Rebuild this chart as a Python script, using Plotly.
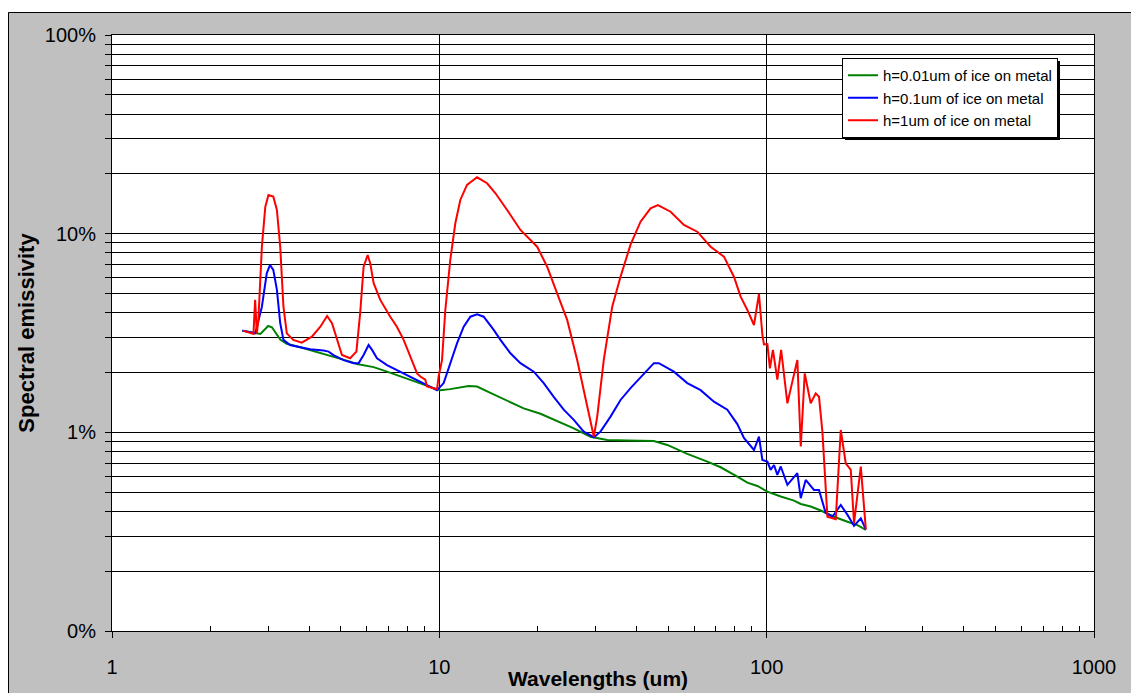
import plotly.graph_objects as go

# Wavelength (um) and spectral emissivity (%)
green_x = [2.5, 2.74, 2.84, 3.0, 3.08, 3.27, 3.42, 3.76, 4.23, 4.75, 5.34, 5.6, 6.01, 6.3, 6.92, 7.6, 8.55, 9.61, 10.07, 10.8,
           12.29, 13.04, 14.32, 16.11, 18.1, 20.37, 22.9, 25.75, 28.96, 32.57, 37.5, 45.23, 49.7, 57.21, 65.88, 72.33, 81.36,
           87.3, 93.67, 100.5, 110.4, 121.2, 127.1, 136.3, 146.3, 160.6, 176.6, 189.4, 200.9]
green_y = [3.25, 3.15, 3.13, 3.43, 3.38, 2.92, 2.79, 2.68, 2.54, 2.40, 2.27, 2.21, 2.16, 2.13, 2.02, 1.91, 1.78, 1.67, 1.63, 1.65,
           1.71, 1.70, 1.58, 1.44, 1.32, 1.24, 1.145, 1.048, 0.951, 0.916, 0.910, 0.905, 0.864, 0.779, 0.712, 0.667, 0.598,
           0.558, 0.537, 0.503, 0.475, 0.453, 0.436, 0.423, 0.404, 0.376, 0.355, 0.341, 0.323]

blue_x = [2.5, 2.74, 2.87, 2.97, 3.04, 3.11, 3.19, 3.265, 3.34, 3.5, 3.76, 4.03, 4.43, 4.59, 4.75, 5.1, 5.47, 5.67, 5.87, 6.08,
          6.23, 6.45, 6.92, 7.6, 8.55, 9.39, 9.84, 10.31, 10.8, 11.33, 11.87, 12.44, 13.04, 13.66, 14.66, 15.37, 16.49, 17.69,
          19.43, 20.84, 22.36, 23.99, 25.75, 27.62, 29.65, 31.07, 33.34, 35.77, 38.38, 42.15, 45.23, 46.84, 52.06, 57.21, 62.84,
          69.01, 75.82, 81.36, 85.22, 91.46, 94.73, 97.03, 100.5, 102.8, 105.3, 107.8, 110.4, 115.7, 124.1, 127.1, 131.6, 139.5,
          144.5, 151.5, 158.8, 168.4, 176.6, 184.9, 193.9, 200.9]
blue_y = [3.25, 3.15, 4.29, 6.32, 6.96, 6.57, 5.21, 3.55, 2.92, 2.75, 2.68, 2.62, 2.58, 2.55, 2.45, 2.31, 2.23, 2.23, 2.45, 2.75,
          2.60, 2.36, 2.18, 2.02, 1.84, 1.70, 1.63, 1.77, 2.23, 2.81, 3.40, 3.82, 3.93, 3.82, 3.28, 2.92, 2.50, 2.23,
          2.02, 1.77, 1.51, 1.30, 1.155, 1.008, 0.945, 1.008, 1.20, 1.455, 1.67, 1.98, 2.23, 2.23, 2.02, 1.77, 1.63,
          1.427, 1.30, 1.10, 0.937, 0.815, 0.951, 0.726, 0.712, 0.647, 0.685, 0.611, 0.673, 0.544, 0.623, 0.466, 0.576, 0.513,
          0.513, 0.392, 0.376, 0.431, 0.384, 0.338, 0.369, 0.325]

red_x = [2.51, 2.705, 2.737, 2.77, 2.80, 2.87, 2.94, 3.006, 3.11, 3.19, 3.265, 3.34, 3.42, 3.58, 3.80, 4.08, 4.33, 4.54, 4.70, 4.87,
         5.04, 5.34, 5.58, 5.73, 5.87, 6.04, 6.15, 6.30, 6.60, 7.08, 7.42, 7.78, 8.15, 8.55, 8.75, 9.06, 9.17, 9.84, 9.95, 10.19,
         10.43, 10.8, 11.19, 11.59, 12.15, 13.04, 13.99, 14.84, 16.11, 17.69, 19.9, 21.35, 22.9, 24.58, 26.37, 28.29, 29.65, 30.36,
         31.79, 33.74, 35.77, 38.38, 41.18, 44.19, 46.52, 50.87, 55.86, 61.38, 67.42, 74.03, 79.43, 83.26, 87.3, 91.46, 94.73,
         97.03, 98.1, 100.5, 102.3, 104.5, 107.8, 110.7, 115.7, 119.8, 124.1, 127.1, 130.7, 136.3, 141.2, 144.5, 148.0, 153.3,
         162.6, 168.4, 174.4, 180.7, 184.9, 193.9, 200.9]
red_y = [3.25, 3.13, 4.64, 3.15, 3.68, 8.60, 13.67, 15.66, 15.36, 13.16, 8.60, 4.29, 3.15, 2.92, 2.83, 3.03, 3.40, 3.85, 3.54, 2.92,
         2.45, 2.36, 2.55, 3.98, 6.82, 7.81, 7.10, 5.63, 4.64, 3.82, 3.40, 2.92, 2.40, 1.98, 1.91, 1.84, 1.70, 1.65, 1.91, 2.31,
         4.13, 7.37, 11.28, 14.78, 17.59, 19.22, 17.94, 15.97, 13.16, 10.44, 8.60, 6.82, 5.01, 3.68, 2.31, 1.35, 0.951, 1.20,
         2.31, 4.29, 6.07, 8.80, 11.49, 13.42, 13.94, 12.90, 11.06, 10.23, 8.60, 7.66, 6.07, 4.82, 4.13, 3.47, 4.97,
         3.09, 2.77, 2.78, 2.10, 2.60, 1.84, 2.60, 1.40, 1.80, 2.31, 0.848, 1.98, 1.40, 1.57, 1.51, 1.008, 0.376,
         0.365, 1.028, 0.699, 0.647, 0.349, 0.672, 0.325]

series_names = ["h=0.01um of ice on metal", "h=0.1um of ice on metal", "h=1um of ice on metal"]
series_colors = ["#008000", "#0000ff", "#ff0000"]

x_tickvals = [1, 10, 100, 1000]
x_ticktext = ["1", "10", "100", "1000"]
y_tickvals = [0.1, 1, 10, 100]
y_ticktext = ["0%", "1%", "10%", "100%"]

FONT = "Liberation Sans, Arial, sans-serif"

W, H = 1131, 693
L, R, T, B = 112, 1094, 35, 631
pw, ph = R - L, B - T


def px_x(p):
    return (p - L) / pw


def px_y(p):
    return (B - p) / ph


fig = go.Figure()
for name, xs, ys, col in zip(series_names, [green_x, blue_x, red_x], [green_y, blue_y, red_y], series_colors):
    fig.add_trace(go.Scatter(x=xs, y=ys, mode="lines", name=name,
                             line=dict(color=col, width=2)))

minor_x = [m * d for d in (1, 10, 100) for m in range(2, 10)]
minor_y = [m * d for d in (0.1, 1, 10) for m in range(2, 10)]

fig.update_layout(
    width=W, height=H,
    margin=dict(l=L, r=W - R, t=T, b=H - B, pad=0),
    paper_bgcolor="#c0c0c0",
    plot_bgcolor="white",
    font=dict(family=FONT, size=20, color="black"),
    showlegend=True,
    legend=dict(x=px_x(842), y=px_y(58), xanchor="left", yanchor="top",
                bgcolor="white", bordercolor="black", borderwidth=1,
                font=dict(family=FONT, size=15, color="black")),
    xaxis=dict(type="log", range=[0, 3], tickmode="array", tickvals=x_tickvals, ticktext=x_ticktext,
               ticks="outside", ticklen=6, tickcolor="black", showline=True, linecolor="black", linewidth=1,
               mirror=True, showgrid=True, gridcolor="black", gridwidth=1, zeroline=False,
               ticklabelstandoff=12,
               minor=dict(tickmode="array", tickvals=minor_x, ticks="inside", ticklen=5, tickcolor="black",
                          showgrid=False)),
    yaxis=dict(type="log", range=[-1, 2], tickmode="array", tickvals=y_tickvals, ticktext=y_ticktext,
               ticks="outside", ticklen=6, tickcolor="black", showline=True, linecolor="black", linewidth=1,
               mirror=True, showgrid=True, gridcolor="black", gridwidth=1, zeroline=False,
               ticklabelstandoff=5,
               minor=dict(tickmode="array", tickvals=minor_y, ticks="outside", ticklen=6, tickcolor="black",
                          showgrid=True, gridcolor="black", gridwidth=1),
               title=dict(text="Spectral emissivity", font=dict(family=FONT, size=22, weight="bold"), standoff=4)),
    annotations=[
        dict(text="Wavelengths (um)", xref="paper", yref="paper", x=px_x(598), y=px_y(678),
             xanchor="center", yanchor="middle", showarrow=False,
             font=dict(family=FONT, size=21, weight="bold", color="black")),
    ],
    shapes=[
        # white outer margins around the grey chart area
        dict(type="rect", xref="paper", yref="paper", x0=px_x(-5), x1=px_x(8), y0=px_y(720), y1=px_y(-5),
             fillcolor="white", line=dict(width=0), layer="above"),
        dict(type="rect", xref="paper", yref="paper", x0=px_x(-5), x1=px_x(1140), y0=px_y(12), y1=px_y(-5),
             fillcolor="white", line=dict(width=0), layer="above"),
        # chart area border
        dict(type="rect", xref="paper", yref="paper", x0=px_x(8.5), x1=px_x(1160), y0=px_y(720), y1=px_y(12.5),
             fillcolor="rgba(0,0,0,0)", line=dict(color="black", width=1), layer="above"),
        # legend shadow
        dict(type="rect", xref="paper", yref="paper", x0=px_x(845), x1=px_x(1060), y0=px_y(140), y1=px_y(61),
             fillcolor="black", line=dict(width=0), layer="above"),
    ],
)

fig.write_html("out.html")
